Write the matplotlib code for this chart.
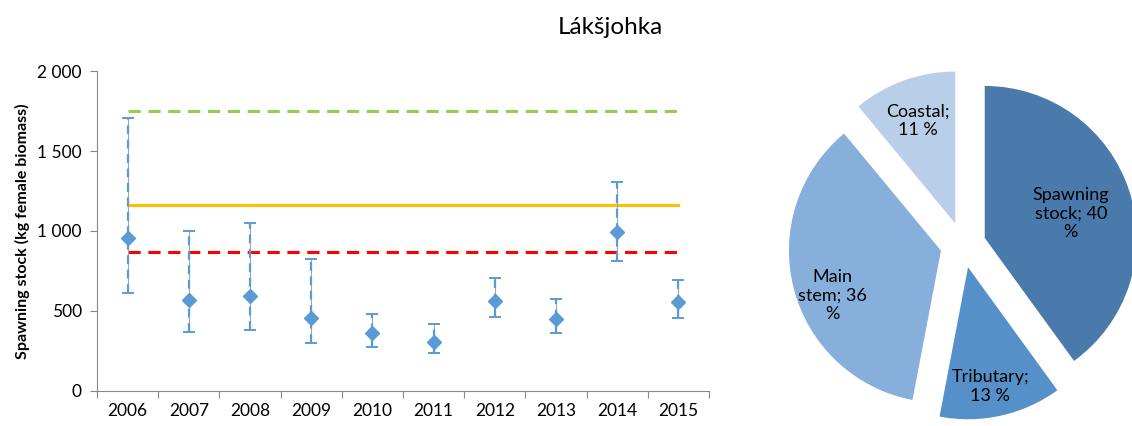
"""Spawning stock estimates for Lákšjohka with stock-composition pie."""

import numpy as np
import matplotlib
matplotlib.use("Agg")
import matplotlib.pyplot as plt
import matplotlib.ticker as mticker

years = ["2006", "2007", "2008", "2009", "2010", "2011", "2012", "2013", "2014", "2015"]
stock = [954, 569, 592, 454, 360, 308, 562, 452, 994, 556]
upper = [1708, 998, 1052, 823, 481, 419, 708, 577, 1306, 694]
lower = [612, 369, 379, 298, 277, 237, 460, 362, 811, 454]

upper_ref = 1750
target = 1165
lower_ref = 867

pie_labels = ["Spawning\nstock; 40\n%", "Tributary;\n13 %", "Main\nstem; 36\n%", "Coastal;\n11 %"]
pie_values = [40, 13, 36, 11]
pie_colors = ["#4a7aab", "#5591c8", "#86afdc", "#b9cfe9"]

plt.rcParams["font.family"] = ["Lato", "DejaVu Sans"]

fig = plt.figure(figsize=(11.32, 4.26), dpi=100)
fig.text(0.539, 0.935, "Lákšjohka", ha="center", va="center", fontsize=17.5)

# Left: spawning stock with error bars and reference lines
ax = fig.add_axes([0.0857, 0.0822, 0.5406, 0.7511])
x = np.arange(len(years))
stock_a = np.array(stock)
err = [stock_a - np.array(lower), np.array(upper) - stock_a]

ax.plot([x[0], x[-1]], [upper_ref, upper_ref], color="#92d050", lw=2.2, ls=(0, (4, 2.5)))
ax.plot([x[0], x[-1]], [target, target], color="#ffc000", lw=2.2)
ax.plot([x[0], x[-1]], [lower_ref, lower_ref], color="#ff0000", lw=2.2, ls=(0, (4, 2.5)))

ax.vlines(x, lower, upper, color="#a6a6a6", lw=0.8, zorder=3)
eb = ax.errorbar(x, stock, yerr=err, fmt="D", color="#5b9bd5", ms=7, ecolor="#5b9bd5",
                 elinewidth=1.6, capsize=4, capthick=1.4, zorder=4)
eb[2][0].set_linestyle((0, (4, 2.5)))

ax.set_xlim(-0.5, len(years) - 0.5)
ax.set_ylim(0, 2000)
ax.yaxis.set_major_locator(mticker.MultipleLocator(500))
ax.yaxis.set_major_formatter(mticker.FuncFormatter(lambda v, _: f"{v:,.0f}".replace(",", " ")))
ax.set_xticks(np.arange(-0.5, len(years), 1.0))
ax.set_xticklabels([])
ax.set_xticks(x, minor=True)
ax.set_xticklabels(years, minor=True)
ax.tick_params(axis="x", which="minor", length=0, pad=9, labelsize=12.5)
ax.tick_params(axis="x", which="major", length=5, color="#888888")
ax.tick_params(axis="y", length=5, color="#888888", labelsize=12.5, pad=6)
for s in ["top", "right"]:
    ax.spines[s].set_visible(False)
for s in ["left", "bottom"]:
    ax.spines[s].set_color("#888888")
ax.set_ylabel("Spawning stock (kg female biomass)", fontsize=11.5, fontweight="bold", labelpad=5)

# Right: pie of stock composition
pax = fig.add_axes([0.6829, -0.0211, 0.3357, 0.892])
wedges, texts = pax.pie(pie_values, colors=pie_colors, startangle=90, counterclock=False,
                        explode=[0.15] * 4, labels=pie_labels, labeldistance=0.6,
                        textprops={"fontsize": 13, "ha": "center", "va": "center"},
                        wedgeprops={"linewidth": 0})
# Excel places each label a bit differently inside its slice
label_dist = [0.59, 0.80, 0.77, 0.72]
angle_shift = [-2, -2, 8, 0]
for w, t, d, da in zip(wedges, texts, label_dist, angle_shift):
    th = np.deg2rad((w.theta1 + w.theta2) / 2 + da)
    cx, cy = w.center
    t.set_position((cx + d * np.cos(th), cy + d * np.sin(th)))
pax.set_xlim(-1.25, 1.25)
pax.set_ylim(-1.25, 1.25)
pax.set_aspect("equal")

fig.savefig("out.png", dpi=100)
